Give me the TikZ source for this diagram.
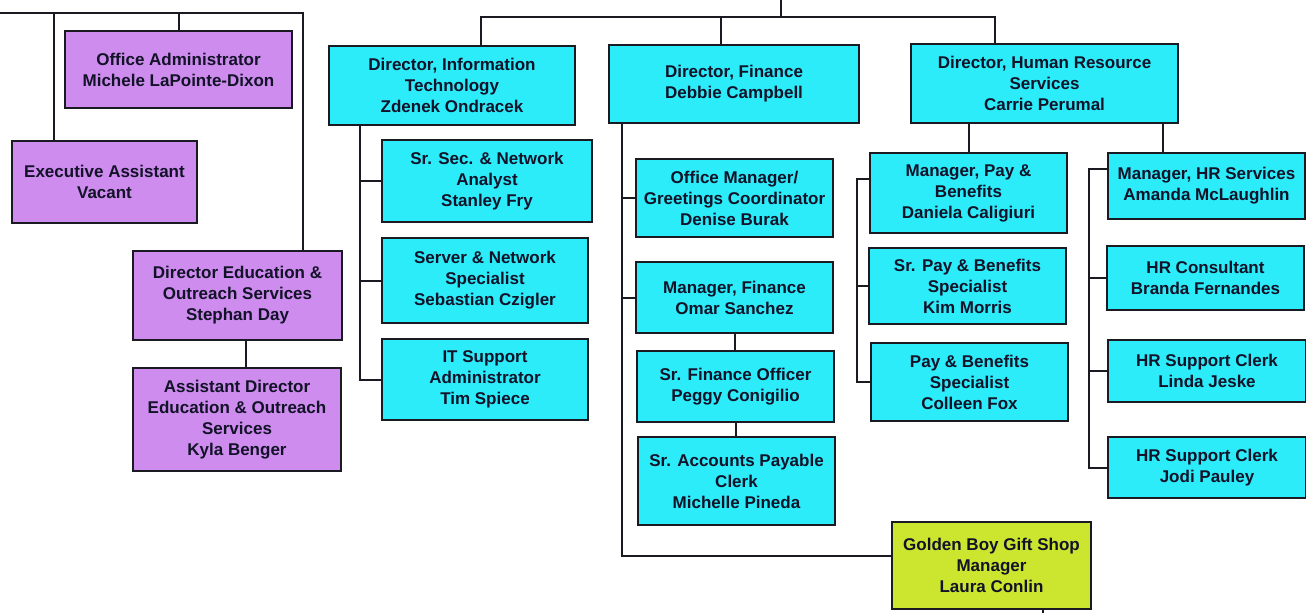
\documentclass[tikz,border=0pt]{standalone}
\usepackage{fontspec}
\setmainfont{Liberation Sans}
\definecolor{orgpurple}{RGB}{206,140,238}
\definecolor{orgcyan}{RGB}{44,236,250}
\definecolor{orglime}{RGB}{204,230,48}
\definecolor{orgline}{RGB}{26,26,34}
\definecolor{orgtext}{RGB}{18,18,40}
\tikzset{
  orgbox/.style={draw=orgline, line width=2pt, align=center, text=orgtext,
    font=\bfseries\fontsize{17}{21}\selectfont, inner sep=1pt},
  purplebox/.style={orgbox, fill=orgpurple},
  cyanbox/.style={orgbox, fill=orgcyan},
  limebox/.style={orgbox, fill=orglime},
  link/.style={draw=orgline, line width=2pt}
}
\begin{document}
\begin{tikzpicture}[x=1pt, y=-1pt]
% Set the page size (pixels of the reference)
\useasboundingbox (0,0) rectangle (1306,613);

% Left group
\node[purplebox, minimum width=227, minimum height=77] (offadm) at (178.5,69.5) {Office Administrator\\Michele LaPointe-Dixon};
\node[purplebox, minimum width=185, minimum height=82] (execasst) at (104.5,182) {Executive Assistant\\Vacant};
\node[purplebox, minimum width=209, minimum height=89] (direduc) at (237.5,295.5) {Director Education \&\\Outreach Services\\Stephan Day};
\node[purplebox, minimum width=208, minimum height=103] (asstdir) at (237,419.5) {Assistant Director\\Education \& Outreach\\Services\\Kyla Benger};

% Directors
\node[cyanbox, minimum width=246, minimum height=79] (itdir) at (452,85.5) {Director, Information\\Technology\\Zdenek Ondracek};
\node[cyanbox, minimum width=250, minimum height=78] (findir) at (734,84) {Director, Finance\\Debbie Campbell};
\node[cyanbox, minimum width=267, minimum height=79] (hrdir) at (1044.5,83.5) {Director, Human Resource\\Services\\Carrie Perumal};

% Information Technology
\node[cyanbox, minimum width=210, minimum height=82] (secanalyst) at (487,181) {Sr. Sec. \& Network\\Analyst\\Stanley Fry};
\node[cyanbox, minimum width=206, minimum height=85] (netspec) at (485,280.5) {Server \& Network\\Specialist\\Sebastian Czigler};
\node[cyanbox, minimum width=206, minimum height=81] (itsupport) at (485,379.5) {IT Support\\Administrator\\Tim Spiece};

% Finance
\node[cyanbox, minimum width=197, minimum height=78] (offmgr) at (734.5,198) {Office Manager/\\Greetings Coordinator\\Denise Burak};
\node[cyanbox, minimum width=197, minimum height=71] (finmgr) at (734.5,297.5) {Manager, Finance\\Omar Sanchez};
\node[cyanbox, minimum width=197, minimum height=71] (finofficer) at (735.5,386.5) {Sr. Finance Officer\\Peggy Conigilio};
\node[cyanbox, minimum width=197, minimum height=88] (accpay) at (736.5,481) {Sr. Accounts Payable\\Clerk\\Michelle Pineda};
\node[limebox, minimum width=199, minimum height=87] (giftshop) at (991.5,565.5) {Golden Boy Gift Shop\\Manager\\Laura Conlin};

% Human Resource Services
\node[cyanbox, minimum width=197, minimum height=80] (paymgr) at (968.5,193) {Manager, Pay \&\\Benefits\\Daniela Caligiuri};
\node[cyanbox, minimum width=197, minimum height=76] (payspecsr) at (967.5,286) {Sr. Pay \& Benefits\\Specialist\\Kim Morris};
\node[cyanbox, minimum width=197, minimum height=78] (payspec) at (969.5,382) {Pay \& Benefits\\Specialist\\Colleen Fox};
\node[cyanbox, minimum width=197, minimum height=66] (hrmgr) at (1206.5,186) {Manager, HR Services\\Amanda McLaughlin};
\node[cyanbox, minimum width=197, minimum height=64] (hrcons) at (1205.5,278) {HR Consultant\\Branda Fernandes};
\node[cyanbox, minimum width=198, minimum height=62] (hrclerk1) at (1207,371) {HR Support Clerk\\Linda Jeske};
\node[cyanbox, minimum width=198, minimum height=61] (hrclerk2) at (1207,467.5) {HR Support Clerk\\Jodi Pauley};

% Connectors, left group
\coordinate (leftin) at (0,13);
\coordinate (leftbus) at (303,13);
\coordinate (eabus) at (54,13);
\draw[link] (leftin) -- (leftbus) -- (leftbus |- direduc.north);
\draw[link] (eabus) -- (eabus |- execasst.north);
\draw[link] (offadm.north) -- (offadm.north |- leftin);
\draw[link] ([xshift=8.5]direduc.south) -- ([xshift=9]asstdir.north);

% Connectors, directors
\coordinate (topin) at (781,0);
\coordinate (bus) at (781,17);
\draw[link] (topin) -- (bus);
\draw[link] ([xshift=29]itdir.north) |- (bus) -| ([xshift=-49.5]hrdir.north);
\draw[link] ([xshift=-13]findir.north) -- ([xshift=-13]findir.north |- bus);

% Connectors, information technology
\draw[link] ([xshift=32]itdir.south west) |- (itsupport.west);
\draw[link] (secanalyst.west) -- ++(-21,0);
\draw[link] (netspec.west) -- ++(-21,0);

% Connectors, finance
\draw[link] ([xshift=14]findir.south west) |- ([yshift=10]giftshop.west);
\draw[link] (offmgr.west) -- ++(-13,0);
\draw[link] (finmgr.west) -- ++(-13,0);
\draw[link] (finmgr.south) -- (finmgr.south |- finofficer.north);
\draw[link] (finofficer.south) -- (finofficer.south |- accpay.north);
\coordinate (shopout) at (1043,613);
\draw[link] (shopout |- giftshop.south) -- (shopout);

% Connectors, human resource services
\draw[link] (paymgr.north |- hrdir.south) -- (paymgr.north);
\draw[link] ([xshift=-16]hrdir.south east) -- ([xshift=-16]hrdir.south east |- hrmgr.north);
\draw[link] ([yshift=14]paymgr.west) -- ++(-12,0) |- (payspec.west);
\draw[link] (payspecsr.west) -- ++(-11,0);
\draw[link] ([yshift=17]hrmgr.west) -- ++(-18,0) |- (hrclerk2.west);
\draw[link] (hrcons.west) -- ++(-17,0);
\draw[link] (hrclerk1.west) -- ++(-18,0);
\end{tikzpicture}
\end{document}
